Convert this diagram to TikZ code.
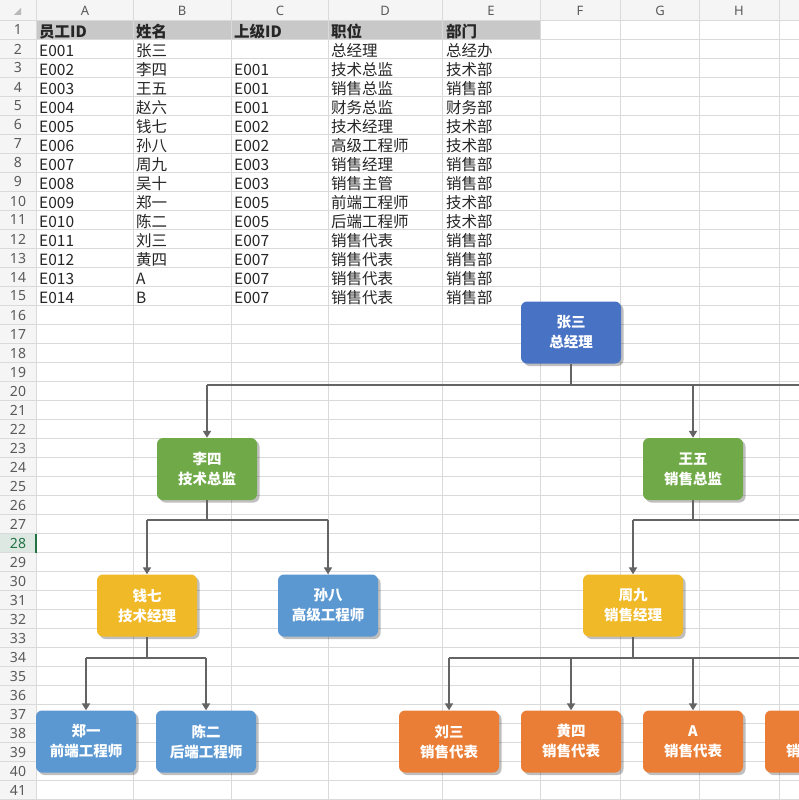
\documentclass[tikz,border=0pt]{standalone}
\usepackage{fontspec}
\setmainfont{Noto Sans CJK SC}
\newfontfamily\cjk{Noto Sans CJK SC}
\newfontfamily\uisans{Noto Sans}
\usetikzlibrary{arrows.meta,shadows}
\definecolor{gridc}{RGB}{218,218,218}
\definecolor{hdrbg}{RGB}{245,245,245}
\definecolor{hdrcell}{RGB}{200,200,200}
\definecolor{selbg}{RGB}{222,232,226}
\definecolor{selgreen}{RGB}{33,115,70}
\definecolor{lblc}{RGB}{90,90,90}
\definecolor{connc}{RGB}{100,100,100}
\definecolor{cnavy}{RGB}{72,114,196}
\definecolor{cgreen}{RGB}{112,170,72}
\definecolor{cgold}{RGB}{240,185,40}
\definecolor{clblue}{RGB}{91,152,210}
\definecolor{corange}{RGB}{234,126,54}
\tikzset{
  gridline/.style={draw=gridc, line width=0.8pt},
  collbl/.style={font=\uisans\fontsize{13}{13}\selectfont, text=lblc, inner sep=0pt},
  rowlbl/.style={font=\uisans\fontsize{14}{14}\selectfont, text=lblc, inner sep=0pt},
  cell/.style={anchor=base west, inner sep=0pt, font=\cjk\fontsize{15.5}{16}\selectfont, text=black!85},
  hcell/.style={cell, font=\cjk\bfseries\fontsize{15.5}{16}\selectfont},
  orgbox/.style={rectangle, rounded corners=6pt, minimum width=100pt, minimum height=62pt,
    inner sep=0pt, text=white, align=center,
    font=\cjk\bfseries\fontsize{14.5}{20}\selectfont,
    drop shadow={shadow xshift=2.5pt, shadow yshift=-2.5pt, opacity=0.25, fill=black}},
  conn/.style={draw=connc, line width=2pt},
  arrowc/.style={conn, -{Triangle[width=8pt,length=7pt]}}
}
\begin{document}
\begin{tikzpicture}[x=1pt,y=-1pt]
\useasboundingbox (0,0) rectangle (799,800);
\clip (0,0) rectangle (799,800);
\fill[white] (0,0) rectangle (799,800);
% header backgrounds
\fill[hdrbg] (0,0) rectangle (799,20.5);
\fill[hdrbg] (0,0) rectangle (36,800);
\fill[hdrcell] (36,20.5) rectangle (540,39.5);
\fill[selbg] (0,533.5) rectangle (36,552.5);
% grid
\foreach \n in {1,...,42} \draw[gridline] (0,19*\n+1.5) -- (799,19*\n+1.5);
\foreach \x in {36,133,231,328,442,540,620,699,779} \draw[gridline] (\x,0) -- (\x,800);
\fill[selgreen] (34.8,533.5) rectangle (37.2,552.5);
\fill[gray!55] (21,8) -- (21,15) -- (14,15) -- cycle;
% column letters
\foreach \l/\x in {A/85,B/182,C/280,D/385,E/491,F/580,G/660,H/739}
  \node[collbl] (col\l) at (\x,10.5) {\l};
% row numbers
\foreach \n in {1,...,27,29,30,...,41}
  \node[rowlbl] (row\n) at (18,11+19*\n) {\n};
\node[rowlbl, text=selgreen] (row28) at (18,11+19*28) {28};
% header row
\node[hcell] (hA) at (39,37.5) {员工ID};
\node[hcell] (hB) at (136,37.5) {姓名};
\node[hcell] (hC) at (234,37.5) {上级ID};
\node[hcell] (hD) at (331,37.5) {职位};
\node[hcell] (hE) at (446,37.5) {部门};
% data rows
\foreach \r/\ra/\rb/\rc/\rd/\re in {
  2/E001/张三/{}/总经理/总经办,
  3/E002/李四/E001/技术总监/技术部,
  4/E003/王五/E001/销售总监/销售部,
  5/E004/赵六/E001/财务总监/财务部,
  6/E005/钱七/E002/技术经理/技术部,
  7/E006/孙八/E002/高级工程师/技术部,
  8/E007/周九/E003/销售经理/销售部,
  9/E008/吴十/E003/销售主管/销售部,
  10/E009/郑一/E005/前端工程师/技术部,
  11/E010/陈二/E005/后端工程师/技术部,
  12/E011/刘三/E007/销售代表/销售部,
  13/E012/黄四/E007/销售代表/销售部,
  14/E013/A/E007/销售代表/销售部,
  15/E014/B/E007/销售代表/销售部}{
  \node[cell] (a\r) at (39,18.5+19*\r) {\ra};
  \node[cell] (b\r) at (136,18.5+19*\r) {\rb};
  \node[cell] (c\r) at (234,18.5+19*\r) {\rc};
  \node[cell] (d\r) at (331,18.5+19*\r) {\rd};
  \node[cell] (e\r) at (446,18.5+19*\r) {\re};
}
% org chart boxes
\node[orgbox, fill=cnavy] (zs) at (571,332.5) {张三\\总经理};
\node[orgbox, fill=cgreen] (ls) at (207,469) {李四\\技术总监};
\node[orgbox, fill=cgreen] (ww) at (693,469) {王五\\销售总监};
\node[orgbox, fill=cgold] (qq) at (147,605.5) {钱七\\技术经理};
\node[orgbox, fill=clblue] (sb) at (328,605.5) {孙八\\高级工程师};
\node[orgbox, fill=cgold] (zj) at (633,605.5) {周九\\销售经理};
\node[orgbox, fill=clblue] (zy) at (86,741.5) {郑一\\前端工程师};
\node[orgbox, fill=clblue] (ce) at (206,741.5) {陈二\\后端工程师};
\node[orgbox, fill=corange] (l3) at (449,741.5) {刘三\\销售代表};
\node[orgbox, fill=corange] (h4) at (571,741.5) {黄四\\销售代表};
\node[orgbox, fill=corange] (ra) at (693,741.5) {A\\销售代表};
\node[orgbox, fill=corange] (rb) at (815,741.5) {B\\销售代表};
% connectors
\coordinate (j1) at (571,385);
\coordinate (e1) at (810,385);
\draw[conn] (zs.south) -- (j1);
\draw[conn] (ls.north |- j1) -- (e1);
\draw[arrowc] (ls.north |- j1) -- (ls.north);
\draw[arrowc] (ww.north |- j1) -- (ww.north);
\coordinate (j2) at (207,520);
\draw[conn] (ls.south) -- (j2);
\draw[conn] (qq.north |- j2) -- (sb.north |- j2);
\draw[arrowc] (qq.north |- j2) -- (qq.north);
\draw[arrowc] (sb.north |- j2) -- (sb.north);
\coordinate (j3) at (693,520);
\coordinate (e3) at (810,520);
\draw[conn] (ww.south) -- (j3);
\draw[conn] (zj.north |- j3) -- (e3);
\draw[arrowc] (zj.north |- j3) -- (zj.north);
\coordinate (j4) at (147,658);
\draw[conn] (qq.south) -- (j4);
\draw[conn] (zy.north |- j4) -- (ce.north |- j4);
\draw[arrowc] (zy.north |- j4) -- (zy.north);
\draw[arrowc] (ce.north |- j4) -- (ce.north);
\coordinate (j5) at (633,658);
\coordinate (e5) at (810,658);
\draw[conn] (zj.south) -- (j5);
\draw[conn] (l3.north |- j5) -- (e5);
\draw[arrowc] (l3.north |- j5) -- (l3.north);
\draw[arrowc] (h4.north |- j5) -- (h4.north);
\draw[arrowc] (ra.north |- j5) -- (ra.north);
\draw[arrowc] (rb.north |- j5) -- (rb.north);
\end{tikzpicture}
\end{document}
